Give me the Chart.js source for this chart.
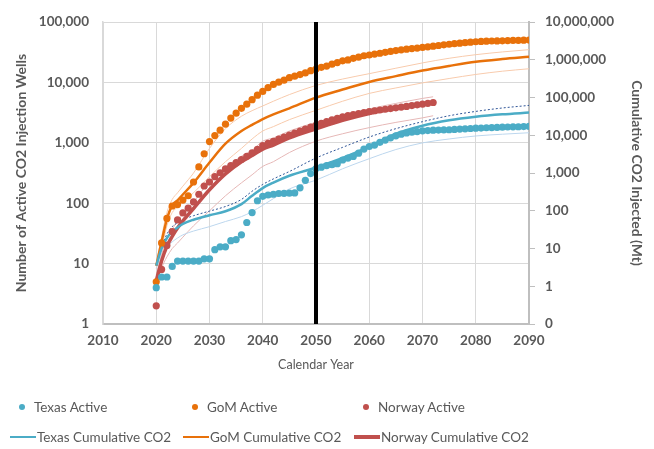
<!DOCTYPE html>
<html>
<head>
<meta charset="utf-8">
<script src="https://cdn.jsdelivr.net/npm/chart.js@4.4.1/dist/chart.umd.min.js"></script>
<style>
  body { margin: 0; background: #fff; font-family: Lato, "Open Sans", sans-serif; }
  #wrap { position: relative; width: 654px; height: 449px; }
  #legend { position: absolute; left: 0; top: 393px; width: 654px; color: #595959; font-size: 13.5px; }
  .row { position: relative; height: 30px; }
  .item { position: absolute; top: 0; height: 28px; display: flex; align-items: center; white-space: nowrap; }
  .mark { flex: none; }
</style>
</head>
<body>
<div id="wrap">
  <canvas id="chart" width="654" height="449"></canvas>
  <div id="legend"></div>
</div>
<script>
const activeYears = [
  2020, 2021, 2022, 2023, 2024, 2025, 2026, 2027, 2028, 2029, 2030,
  2031, 2032, 2033, 2034, 2035, 2036, 2037, 2038, 2039, 2040,
  2041, 2042, 2043, 2044, 2045, 2046, 2047, 2048, 2049, 2050,
  2051, 2052, 2053, 2054, 2055, 2056, 2057, 2058, 2059, 2060,
  2061, 2062, 2063, 2064, 2065, 2066, 2067, 2068, 2069, 2070,
  2071, 2072, 2073, 2074, 2075, 2076, 2077, 2078, 2079, 2080,
  2081, 2082, 2083, 2084, 2085, 2086, 2087, 2088, 2089, 2090
];

const texasActive = [
  4, 6, 6, 9, 11, 11, 11, 11, 11, 12, 12,
  17, 19, 19, 24, 25, 30, 48, 70, 110, 130,
  137, 141, 145, 146, 147, 148, 180, 240, 310, 375,
  395, 420, 435, 452, 520, 560, 595, 675, 790, 870,
  920, 1020, 1110, 1210, 1310, 1390, 1460, 1500, 1540, 1580,
  1600, 1620, 1630, 1640, 1650, 1670, 1690, 1710, 1730, 1750,
  1760, 1780, 1790, 1800, 1820, 1830, 1840, 1850, 1860, 1880
];

const gomActive = [
  5, 22, 56, 90, 95, 113, 133, 225, 400, 660, 1050,
  1320, 1620, 2040, 2570, 3100, 3730, 4370, 5200, 6170, 7100,
  8200, 9300, 10100, 10900, 12000, 12700, 13500, 14400, 15700, 16700,
  17800, 18700, 20100, 21400, 22800, 23600, 25100, 26200, 27700, 28500,
  29500, 30500, 31600, 32700, 33800, 34700, 35600, 36400, 37200, 38000,
  39000, 40000, 41000, 42000, 43000, 43900, 44800, 45700, 46500, 47300,
  47800, 48300, 48600, 48800, 49000, 49400, 49700, 50000, 50200, 50400
];

// Norway runs 2020-2072
const norwayActive = [
  2, 8, 20, 34, 53, 69, 83, 105, 141, 193, 225,
  275, 320, 370, 420, 470, 530, 600, 680, 780, 900,
  980, 1060, 1150, 1240, 1340, 1450, 1560, 1690, 1820, 1950,
  2100, 2250, 2400, 2550, 2690, 2820, 2940, 3060, 3180, 3300,
  3400, 3500, 3600, 3700, 3800, 3910, 4020, 4140, 4260, 4370,
  4520, 4660
];

// cumulative CO2 injected (Mt), right axis
const cumYears = [2020, 2021, 2022, 2023, 2024, 2025, 2027, 2030, 2033, 2036, 2038, 2040,
                  2042, 2045, 2050, 2055, 2060, 2065, 2070, 2075, 2080, 2085, 2090];
const texasCum = [3.5, 10, 19, 28, 36, 45, 58, 76, 97, 150, 250, 400,
                  560, 850, 1400, 2500, 5000, 11000, 18000, 25000, 31000, 36000, 40000];
const texasHigh = [4, 11, 24, 38, 48, 58, 74, 98, 130, 200, 330, 500,
                   700, 1100, 2500, 4800, 9000, 15000, 23000, 33000, 43000, 53000, 62000];
const texasLow = [3, 6, 11, 15, 19, 23, 29, 38, 52, 70, 95, 140,
                  210, 380, 650, 1300, 2400, 4200, 6300, 8000, 9600, 10700, 11700];
const gomCum = [3.5, 15, 60, 140, 190, 270, 550, 1900, 6000, 13000, 19000, 27000,
                36000, 52000, 100000, 163000, 260000, 370000, 520000, 690000, 890000, 1050000, 1200000];
const gomHigh = [4, 20, 90, 200, 300, 450, 1000, 4500, 15000, 32000, 45000, 60000,
                 80000, 120000, 210000, 310000, 430000, 600000, 830000, 1100000, 1370000, 1620000, 1860000];
const gomLow = [3, 10, 40, 90, 125, 170, 300, 800, 2000, 4500, 8000, 13000,
                17000, 26000, 46000, 80000, 129000, 180000, 245000, 320000, 410000, 500000, 580000];

const norwayCumYears = [2020, 2021, 2022, 2023, 2024, 2025, 2027, 2030, 2033, 2036, 2038, 2040,
                        2042, 2045, 2050, 2055, 2060, 2065, 2070, 2072];
const norwayCum = [1.4, 4.7, 11.5, 21, 35, 54, 115, 360, 950, 2000, 2900, 4300,
                   5500, 8500, 14800, 25000, 38000, 52000, 67000, 74000];
const norwayHigh = [2, 7, 18, 32, 55, 80, 170, 600, 1400, 2800, 4000, 7000,
                    8500, 13000, 22000, 32000, 50000, 70000, 95000, 105000];
const norwayLow = [1, 3, 6, 10, 14, 20, 40, 100, 250, 550, 900, 1500,
                   2000, 3500, 7000, 11000, 16000, 22000, 29000, 33000];

const markerYear = 2050;
const leftTicks = [1, 10, 100, 1000, 10000, 100000];
const rightTicks = [0.1, 1, 10, 100, 1000, 10000, 100000, 1000000, 10000000];

const teal = "#4bacc6";
const orange = "#e8710a";
const red = "#c0504d";
const textColor = "#595959";

const pts = (xs, ys) => ys.map((y, i) => ({ x: xs[i], y: y }));

const dots = (label, xs, ys, color) => ({
  label, data: pts(xs, ys), yAxisID: "y", showLine: false,
  pointRadius: 3.6, pointBackgroundColor: color, pointBorderWidth: 0,
  borderColor: color, backgroundColor: color, order: 2, legend: "dot"
});

const curve = (label, xs, ys, color, width, dash, legend) => ({
  label, data: pts(xs, ys), yAxisID: "y1", showLine: true,
  borderColor: color, backgroundColor: color, borderWidth: width,
  borderDash: dash || [], pointRadius: 0, cubicInterpolationMode: "monotone",
  order: legend ? 3 : 4, legend: legend || null
});

const datasets = [
  dots("Texas Active", activeYears, texasActive, teal),
  dots("GoM Active", activeYears, gomActive, orange),
  dots("Norway Active", activeYears.slice(0, norwayActive.length), norwayActive, red),
  curve("Texas Cumulative CO2", cumYears, texasCum, teal, 2.5, null, "line"),
  curve("GoM Cumulative CO2", cumYears, gomCum, orange, 2.5, null, "line"),
  curve("Norway Cumulative CO2", norwayCumYears, norwayCum, red, 3.5, null, "line"),
  curve("Texas high", cumYears, texasHigh, "#2f5597", 1, [2, 2]),
  curve("Texas low", cumYears, texasLow, "#bdd7ee", 1),
  curve("GoM high", cumYears, gomHigh, "#f8cbad", 1),
  curve("GoM low", cumYears, gomLow, "#f8cbad", 1),
  curve("Norway high", norwayCumYears, norwayHigh, "#e6b8b7", 1),
  curve("Norway low", norwayCumYears, norwayLow, "#e6b8b7", 1),
  {
    label: "2050", data: [{ x: markerYear, y: leftTicks[0] }, { x: markerYear, y: leftTicks[leftTicks.length - 1] }],
    yAxisID: "y", showLine: true, borderColor: "#000", borderWidth: 4, pointRadius: 0, order: 0
  }
];

const tickFont = { family: "Lato", size: 13.5, weight: "bold" };
const titleFont = { family: "Lato", size: 14, weight: "bold" };

new Chart(document.getElementById("chart"), {
  type: "scatter",
  data: { datasets },
  options: {
    responsive: false,
    animation: false,
    layout: { padding: { top: 17, bottom: 74, left: 0, right: 0 } },
    plugins: { legend: { display: false }, tooltip: { enabled: false } },
    scales: {
      x: {
        type: "linear", min: 2010, max: 2090,
        afterFit: (s) => { s.height = 51; },
        ticks: { stepSize: 10, padding: 9, color: textColor, font: tickFont, callback: (v) => String(v) },
        grid: { color: "#d9d9d9", drawTicks: false },
        border: { color: "#bfbfbf", width: 2 },
        title: { display: true, text: "Calendar Year", color: textColor, font: { family: "Lato", size: 12.5 }, padding: { top: 0, bottom: 3 } }
      },
      y: {
        type: "logarithmic", position: "left", min: 1, max: 100000,
        afterFit: (s) => { s.width = 103; },
        afterBuildTicks: (s) => { s.ticks = leftTicks.map((v) => ({ value: v })); },
        ticks: { padding: 14, color: textColor, font: tickFont, callback: (v) => Number(v).toLocaleString("en-US") },
        grid: { color: "#d9d9d9", drawTicks: false },
        border: { color: "#d9d9d9", width: 1.5 },
        title: { display: true, text: "Number of Active CO2 Injection Wells", color: textColor, font: titleFont, padding: { top: 13, bottom: 0 } }
      },
      y1: {
        type: "logarithmic", position: "right", min: 0.1, max: 10000000,
        afterFit: (s) => { s.width = 125; },
        afterBuildTicks: (s) => { s.ticks = rightTicks.map((v) => ({ value: v })); },
        ticks: { padding: 10, color: textColor, font: tickFont, callback: (v) => Math.round(Number(v)).toLocaleString("en-US") },
        grid: { drawOnChartArea: false, tickLength: 6, tickColor: "#bfbfbf" },
        border: { color: "#bfbfbf", width: 2 },
        title: { display: true, text: "Cumulative CO2 Injected (Mt)", color: textColor, font: titleFont, padding: { top: 9, bottom: 0 } }
      }
    }
  }
});

// legend: two rows, three columns as in the original
const legendEl = document.getElementById("legend");
const colLeft = [10, 183, 354];
const dotRows = datasets.filter((d) => d.legend === "dot");
const lineRows = datasets.filter((d) => d.legend === "line");
[dotRows, lineRows].forEach((rowSets, r) => {
  const row = document.createElement("div");
  row.className = "row";
  rowSets.forEach((d, i) => {
    const item = document.createElement("div");
    item.className = "item";
    item.style.left = colLeft[i] + "px";
    const mark = document.createElement("span");
    mark.className = "mark";
    if (r === 0) {
      mark.style.cssText = `width:6px;height:6px;border-radius:50%;background:${d.borderColor};margin:0 9px 0 9px;`;
    } else {
      mark.style.cssText = `width:26px;height:${d.borderWidth}px;background:${d.borderColor};margin-right:1px;`;
    }
    item.appendChild(mark);
    item.appendChild(document.createTextNode(d.label));
    row.appendChild(item);
  });
  legendEl.appendChild(row);
});
</script>
</body>
</html>
